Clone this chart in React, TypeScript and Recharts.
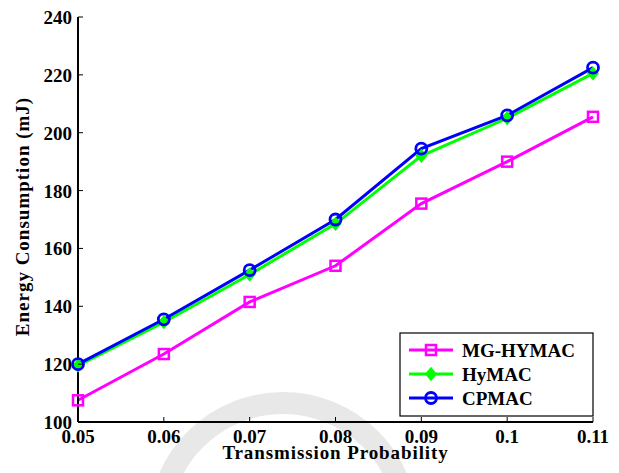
import React from 'react'
import { LineChart, Line, XAxis, YAxis, Label } from 'recharts'

const W = 619
const H = 473
const TXT = { fontFamily: "'Liberation Serif', 'Times New Roman', Times, serif", fontWeight: 700, fontSize: 19 }

const probs = [0.05, 0.06, 0.07, 0.08, 0.09, 0.1, 0.11]
const mgHymac = [107.5, 123.5, 141.5, 154, 175.5, 190, 205.5]
const hymac = [119.5, 134.5, 151, 168.5, 192, 205, 220.5]
const cpmac = [120, 135.5, 152.5, 170, 194.5, 206, 222.5]

const xTicks = [0.05, 0.06, 0.07, 0.08, 0.09, 0.1, 0.11]
const yTicks = [100, 120, 140, 160, 180, 200, 220, 240]

const series = [
  { key: 'mg', name: 'MG-HYMAC', color: '#ff00ff', marker: 'square' },
  { key: 'hy', name: 'HyMAC', color: '#00ff00', marker: 'diamond' },
  { key: 'cp', name: 'CPMAC', color: '#0000ff', marker: 'circle' },
]

const data = probs.map((p, i) => ({ p, mg: mgHymac[i], hy: hymac[i], cp: cpmac[i] }))

const fmtX = (v: number) => v.toFixed(2).replace(/0$/, '')

function Marker({ type, cx, cy, color }: { type: string; cx: number; cy: number; color: string }) {
  if (type === 'square')
    return <rect x={cx - 5} y={cy - 5} width={10} height={10} fill="none" stroke={color} strokeWidth={2.5} />
  if (type === 'diamond')
    return <polygon points={`${cx},${cy - 6} ${cx + 5},${cy} ${cx},${cy + 6} ${cx - 5},${cy}`} fill={color} stroke={color} strokeWidth={1.5} />
  return <circle cx={cx} cy={cy} r={5.5} fill="none" stroke={color} strokeWidth={2.8} />
}

// ticks point inward like a boxed MATLAB plot
function BottomTick({ x, y, payload }: any) {
  return (
    <g>
      <line x1={x} y1={y} x2={x} y2={y - 5} stroke="#000" strokeWidth={1} />
      <text x={x} y={y + 21} textAnchor="middle" style={TXT} fill="#000">
        {fmtX(payload.value)}
      </text>
    </g>
  )
}

function LeftTick({ x, y, payload }: any) {
  return (
    <g>
      <line x1={x} y1={y} x2={x + 5} y2={y} stroke="#000" strokeWidth={1} />
      <text x={x - 6} y={y + 7} textAnchor="end" style={TXT} fill="#000">
        {payload.value}
      </text>
    </g>
  )
}

function TopTick({ x, y }: any) {
  return <line x1={x} y1={y} x2={x} y2={y + 5} stroke="#000" strokeWidth={1} />
}

function RightTick({ x, y }: any) {
  return <line x1={x} y1={y} x2={x - 5} y2={y} stroke="#000" strokeWidth={1} />
}

function Legend() {
  const left = 400
  const top = 333
  return (
    <svg width={W} height={H} style={{ position: 'absolute', left: 0, top: 0, pointerEvents: 'none' }}>
      <rect x={left} y={top} width={193} height={83} fill="#fff" stroke="#000" strokeWidth={1.2} />
      {series.map((s, i) => {
        const cy = top + 17 + i * 24
        return (
          <g key={s.key}>
            <line x1={left + 9} y1={cy} x2={left + 53} y2={cy} stroke={s.color} strokeWidth={3} />
            <Marker type={s.marker} cx={left + 31} cy={cy} color={s.color} />
            <text x={left + 62} y={cy + 7} style={TXT} fill="#000">
              {s.name}
            </text>
          </g>
        )
      })}
    </svg>
  )
}

export default function App() {
  return (
    <div style={{ position: 'absolute', left: 0, top: 0, width: W, height: H, background: '#fff' }}>
      {/* faint watermark arc behind the plot */}
      <svg width={W} height={H} style={{ position: 'absolute', left: 0, top: 0 }}>
        <circle cx={283} cy={527} r={124} fill="none" stroke="#e8e8e8" strokeWidth={22} />
      </svg>
      <div style={{ position: 'absolute', left: 0, top: 0 }}>
        <LineChart width={W} height={H} data={data} margin={{ top: 17, right: 26, bottom: 0, left: 0 }}>
          <XAxis
            dataKey="p"
            type="number"
            domain={[0.05, 0.11]}
            ticks={xTicks}
            interval={0}
            height={51}
            tickSize={0}
            tickMargin={0}
            tick={<BottomTick />}
            axisLine={{ stroke: '#000', strokeWidth: 2 }}
          >
            <Label
              content={({ viewBox }: any) => (
                <text
                  x={viewBox.x + viewBox.width / 2}
                  y={viewBox.y + 37}
                  textAnchor="middle"
                  style={{ ...TXT, letterSpacing: 0.9 }}
                  fill="#000"
                >
                  Transmission Probability
                </text>
              )}
            />
          </XAxis>
          <XAxis
            xAxisId="top"
            dataKey="p"
            type="number"
            orientation="top"
            domain={[0.05, 0.11]}
            ticks={xTicks}
            height={0}
            tickSize={0}
            tickMargin={0}
            tick={<TopTick />}
            axisLine={{ stroke: '#000', strokeWidth: 1.3 }}
          />
          <YAxis
            type="number"
            domain={[100, 240]}
            ticks={yTicks}
            interval={0}
            width={78}
            tickSize={0}
            tickMargin={0}
            tick={<LeftTick />}
            axisLine={{ stroke: '#000', strokeWidth: 2 }}
          >
            <Label
              content={({ viewBox }: any) => (
                <text
                  transform={`translate(${viewBox.x + 29}, ${viewBox.y + viewBox.height / 2 - 3}) rotate(-90)`}
                  textAnchor="middle"
                  style={{ ...TXT, letterSpacing: 1 }}
                  fill="#000"
                >
                  Energy Consumption (mJ)
                </text>
              )}
            />
          </YAxis>
          <YAxis
            yAxisId="right"
            type="number"
            orientation="right"
            domain={[100, 240]}
            ticks={yTicks}
            width={0}
            tickSize={0}
            tickMargin={0}
            tick={<RightTick />}
            axisLine={{ stroke: '#000', strokeWidth: 1.3 }}
          />
          {series.map((s) => (
            <Line
              key={s.key}
              dataKey={s.key}
              name={s.name}
              stroke={s.color}
              strokeWidth={3}
              isAnimationActive={false}
              dot={(p: any) => <Marker key={`${s.key}-${p.index}`} type={s.marker} cx={p.cx} cy={p.cy} color={s.color} />}
              activeDot={false}
            />
          ))}
        </LineChart>
      </div>
      <Legend />
    </div>
  )
}
